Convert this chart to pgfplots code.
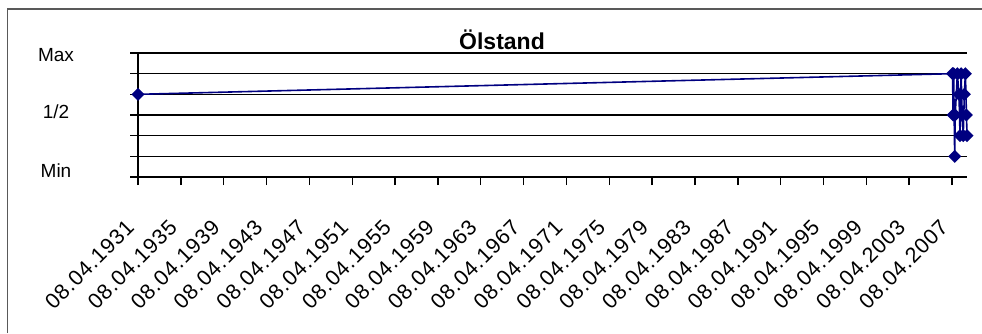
\documentclass[border=0pt]{standalone}
\usepackage{fontspec}
\setmainfont{Liberation Sans}
\newfontfamily\tickfont[LetterSpace=4]{Liberation Sans}
\usepackage{pgfplots}
\pgfplotsset{compat=1.18}
\definecolor{navyline}{RGB}{0,0,128}
\begin{document}
\begin{tikzpicture}[x=1pt,y=1pt]
\path[use as bounding box] (0,0) rectangle (982,333);
\draw[black!65, line width=1.2pt] (7.5,0) -- (7.5,324) -- (982,324);
\node[font=\fontsize{23}{26}\selectfont\bfseries] at (502,293) {Ölstand};
\begin{axis}[
  at={(138pt,156pt)}, anchor=south west,
  scale only axis, width=829pt, height=124pt,
  xmin=1931, xmax=2008.4, ymin=0, ymax=6,
  clip=false,
  axis x line*=bottom, axis y line*=left,
  axis line style={-, black, line width=1.4pt},
  tick style={black, line width=1.4pt},
  tick align=outside, major tick length=8pt,
  ymajorgrids, grid style={black, line width=1.4pt},
  ytick={0,...,6}, yticklabels={,,,,,,},
  extra y ticks={0.29,3.14,5.9},
  extra y tick labels={Min,1/2,Max},
  extra y tick style={major tick length=0pt, grid=none,
    yticklabel style={anchor=center, xshift=-82pt, font=\fontsize{19}{22}\selectfont}},
  xtick={1931,1935,...,2007},
  xticklabels={08.04.1931,08.04.1935,08.04.1939,08.04.1943,08.04.1947,08.04.1951,08.04.1955,08.04.1959,08.04.1963,08.04.1967,08.04.1971,08.04.1975,08.04.1979,08.04.1983,08.04.1987,08.04.1991,08.04.1995,08.04.1999,08.04.2003,08.04.2007},
  xticklabel style={xshift=-7pt, yshift=-38pt, rotate=45, anchor=east, inner sep=1pt, font=\tickfont\fontsize{21.5}{24}\selectfont},
]
\addplot[navyline, line width=1.6pt, mark=square*, mark size=3.8pt, mark options={rotate=45, solid}] coordinates {
(1931,4)
(2007.05,5)
(2007.1,3)
(2007.15,5)
(2007.25,1)
(2007.3,3)
(2007.5,5)
(2007.65,4)
(2007.75,2)
(2007.85,5)
(2007.95,3)
(2008.05,2)
(2008.15,4)
(2008.25,5)
(2008.35,3)
(2008.4,2)
};
\end{axis}
\end{tikzpicture}
\end{document}
